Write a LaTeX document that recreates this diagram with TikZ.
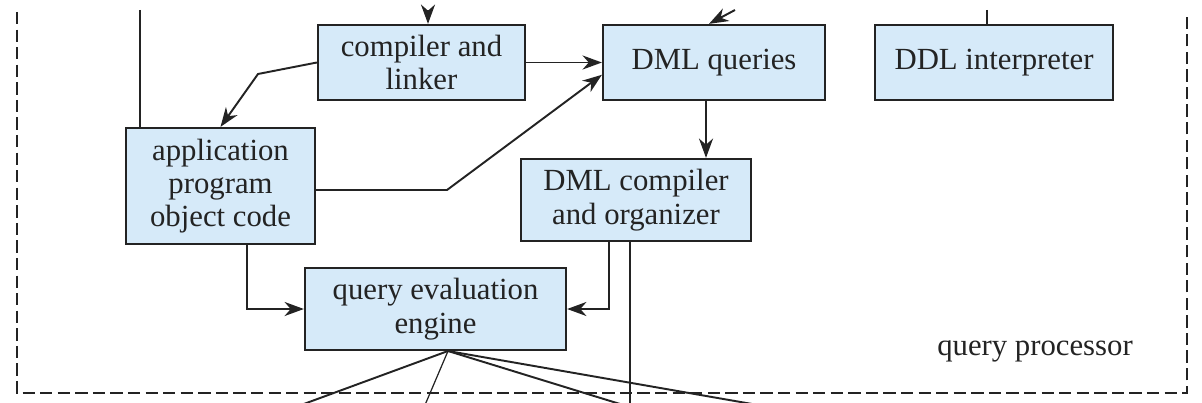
\documentclass[tikz,border=0pt]{standalone}
\usepackage{fontspec}
\setmainfont{Liberation Serif}
\usepackage{tikz}
\usetikzlibrary{arrows.meta}
\definecolor{boxblue}{RGB}{214,234,249}
\definecolor{inkgray}{RGB}{35,35,35}

\begin{document}
\begin{tikzpicture}[x=0.02cm, y=-0.02cm,
  module/.style={rectangle, draw=inkgray, line width=1.3pt, fill=boxblue, align=center, inner sep=2pt, text=inkgray, font=\fontsize{17.5}{19}\selectfont},
  caption/.style={text=inkgray, font=\fontsize{17.5}{19}\selectfont},
  flow/.style={-{Stealth[length=11pt, width=8pt, inset=3.5pt]}, line width=1.1pt, inkgray},
  wire/.style={line width=1.1pt, inkgray},
  thinwire/.style={line width=0.7pt, inkgray},
  border/.style={dash pattern=on 7pt off 3pt, line width=1.1pt, inkgray}
]
\useasboundingbox (0,0) rectangle (1202,402);
\clip (0,0) rectangle (1202,402);

%  : -- query processor frame  : --
\draw[border] (17,12) -- (17,393) -- (1187,393) -- (1187,12);
\node[caption] (qplabel) at (1035,351) {query processor};

%  : -- modules  : --
\node[module, minimum width=41.4mm, minimum height=15mm] (linker) at (421.5,62.5) {compiler and\\linker};
\node[module, minimum width=44.4mm, minimum height=15mm] (dmlq) at (714,62.5) {DML queries};
\node[module, minimum width=47.6mm, minimum height=15mm] (ddl) at (994,62.5) {DDL interpreter};
\node[module, minimum width=37.8mm, minimum height=23.2mm] (appcode) at (220.5,186) {application\\program\\object code};
\node[module, minimum width=46mm, minimum height=16.4mm] (dmlcomp) at (636,200) {DML compiler\\and organizer};
\node[module, minimum width=52.2mm, minimum height=16.4mm] (qeval) at (435.5,309) {query evaluation\\engine};

%  : -- free ends above and below  : --
\coordinate (top1) at (140,10);
\coordinate (top2) at (428,10);
\coordinate (top3) at (735,10);
\coordinate (top4) at (987,10);
\coordinate (fan) at (448,351);
\coordinate (bot1) at (282,412);
\coordinate (bot2) at (422,412);
\coordinate (bot3) at (646,412);
\coordinate (bot4) at (798,412);
\coordinate (bot5) at (630,412);

%  : -- incoming from above  : --
\draw[wire] (top1) -- (appcode.north -| top1);
\draw[flow] (top2) -- (linker.north -| top2);
\draw[flow] (top3) -- (dmlq.north -| 709,0);
\draw[wire] (top4) -- (ddl.north -| top4);

%  : -- connections between modules  : --
\draw[flow] (linker.east) -- (dmlq.west);
\draw[flow] (linker.west) -- (258,74) -- (appcode.north);
\draw[flow] (appcode.east |- 0,190) -- (447,190) -- ([yshift=-7pt]dmlq.west);
\draw[flow] (dmlq.south -| 706,0) -- (dmlcomp.north -| 706,0);
\draw[flow] (appcode.south -| 247,0) |- (qeval.west);
\draw[flow] (dmlcomp.south -| 609,0) |- (qeval.east);
\draw[thinwire] (dmlcomp.south -| bot5) -- (bot5);

%  : -- outgoing below  : --
\draw[wire] (fan) -- (bot1);
\draw[thinwire] (fan) -- (bot2);
\draw[wire] (fan) -- (bot3);
\draw[wire] (fan) -- (bot4);

\end{tikzpicture}
\end{document}
